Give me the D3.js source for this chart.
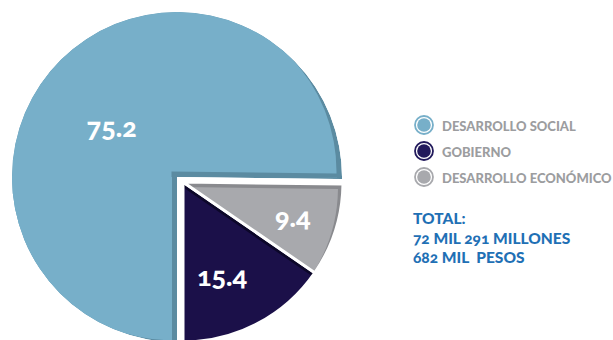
<!DOCTYPE html>
<html><head><meta charset="utf-8">
<script src="https://cdn.jsdelivr.net/npm/d3@7"></script>
<style>
html,body{margin:0;padding:0;background:#fff;}
svg{display:block;font-family:Lato,"Open Sans",sans-serif;}
.num{font-variant-numeric:oldstyle-nums;}
</style></head><body>
<svg id="chart" width="613" height="340"></svg>
<script>
// ---- data ----
const categories = ["DESARROLLO SOCIAL", "GOBIERNO", "DESARROLLO ECONÓMICO"];
const values = [75.2, 15.4, 9.4];
const labels = ["75.2", "15.4", "9.4"];
const pieOrder = ["DESARROLLO SOCIAL", "DESARROLLO ECONÓMICO", "GOBIERNO"];
const totalLines = ["TOTAL:", "72 MIL 291 MILLONES", "682 MIL  PESOS"];

// ---- style ----
const fills  = {"DESARROLLO SOCIAL":"#77afc9", "GOBIERNO":"#1b1049", "DESARROLLO ECONÓMICO":"#a8a9ad"};
const shades = {"DESARROLLO SOCIAL":"#5b8ba1", "GOBIERNO":"#0c0729", "DESARROLLO ECONÓMICO":"#898a8e"};
const legendFill = {"DESARROLLO SOCIAL":"#77afc9", "GOBIERNO":"#221a5c", "DESARROLLO ECONÓMICO":"#a8a9ad"};
const legendRing = {"DESARROLLO SOCIAL":"#77afc9", "GOBIERNO":"#221a5c", "DESARROLLO ECONÓMICO":"#a8a9ad"};
const shift  = {"DESARROLLO SOCIAL":[-5.5,-5.5], "GOBIERNO":[-2.4,3.6], "DESARROLLO ECONÓMICO":[-5,5]};
const lowerShift = [-5, -1.8];
const labelFrac = {"DESARROLLO SOCIAL":0.5, "GOBIERNO":0.636, "DESARROLLO ECONÓMICO":0.72};
const labelTurn = {"DESARROLLO SOCIAL":-0.135, "GOBIERNO":0.09, "DESARROLLO ECONÓMICO":0};

const svg = d3.select("#chart");
const data = categories.map((c,i)=>({cat:c, value:values[i], label:labels[i]}));

const pie = d3.pie().value(d=>d.value)
  .sort((a,b)=>pieOrder.indexOf(a.cat)-pieOrder.indexOf(b.cat))
  .startAngle(Math.PI).endAngle(3*Math.PI);
const arcs = pie(data);

const bigC = [177,177], bigR = 165;
const smallC = [183,182], smallR = 160;

const defs = svg.append("defs");
defs.append("clipPath").attr("id","lowerHalf")
  .append("rect").attr("x",0).attr("y",bigC[1]).attr("width",bigC[0]+bigR).attr("height",bigR+10);

arcs.forEach((a,i)=>{
  const isBig = a.data.cat === "DESARROLLO SOCIAL";
  const c = isBig ? bigC : smallC;
  const r = isBig ? bigR : smallR;
  const arcGen = d3.arc().innerRadius(0).outerRadius(r);
  const id = "clip"+i;
  defs.append("clipPath").attr("id", id)
    .append("path").attr("d", arcGen(a)).attr("transform", `translate(${c[0]},${c[1]})`);
  const g = svg.append("g").attr("clip-path", `url(#${id})`);
  g.append("path").attr("d", arcGen(a)).attr("transform", `translate(${c[0]},${c[1]})`)
    .attr("fill", shades[a.data.cat]);
  const s = shift[a.data.cat];
  g.append("path").attr("d", arcGen(a)).attr("transform", `translate(${c[0]+s[0]},${c[1]+s[1]})`)
    .attr("fill", fills[a.data.cat]);
  if(isBig){
    g.append("g").attr("clip-path","url(#lowerHalf)")
      .append("path").attr("d", arcGen(a))
      .attr("transform", `translate(${c[0]+lowerShift[0]},${c[1]+lowerShift[1]})`)
      .attr("fill", fills[a.data.cat]);
  } else {
    svg.append("path").attr("d", arcGen(a)).attr("transform", `translate(${c[0]},${c[1]})`)
      .attr("fill","none").attr("stroke","#fff").attr("stroke-width",3).attr("stroke-linejoin","miter");
  }
});

// value labels
arcs.forEach(a=>{
  const isBig = a.data.cat === "DESARROLLO SOCIAL";
  const c = isBig ? bigC : smallC;
  const r = (isBig ? bigR : smallR) * labelFrac[a.data.cat];
  const ang = (a.startAngle + a.endAngle)/2 + labelTurn[a.data.cat];
  svg.append("text").attr("class","num")
    .attr("x", c[0] + r*Math.sin(ang)).attr("y", c[1] - r*Math.cos(ang))
    .attr("text-anchor","middle").attr("dominant-baseline","central")
    .attr("fill","#fff").attr("font-weight",900).attr("font-size",27)
    .text(a.data.label);
});

// legend
const leg = svg.append("g").attr("transform","translate(424,125)");
const ly = d3.scalePoint().domain(categories).range([0,52]);
categories.forEach(c=>{
  const g = leg.append("g").attr("transform",`translate(0,${ly(c)})`);
  g.append("circle").attr("r",9).attr("fill","#fff").attr("stroke",legendRing[c]).attr("stroke-width",1.8);
  g.append("circle").attr("r",6.8).attr("fill",legendFill[c]);
  g.append("text").attr("x",18).attr("y",0.5).attr("dominant-baseline","central")
    .attr("fill","#9c9d9f").attr("font-weight",900).attr("font-size",13).text(c);
});

// total
const tot = svg.append("g").attr("transform","translate(413,218)");
totalLines.forEach((t,i)=>{
  tot.append("text").attr("class","num").attr("x",0).attr("y",i*19.5).attr("dominant-baseline","central")
    .attr("fill","#1f70b5").attr("font-weight",900).attr("font-size",15.5)
    .style("white-space","pre").text(t);
});
</script></body></html>
